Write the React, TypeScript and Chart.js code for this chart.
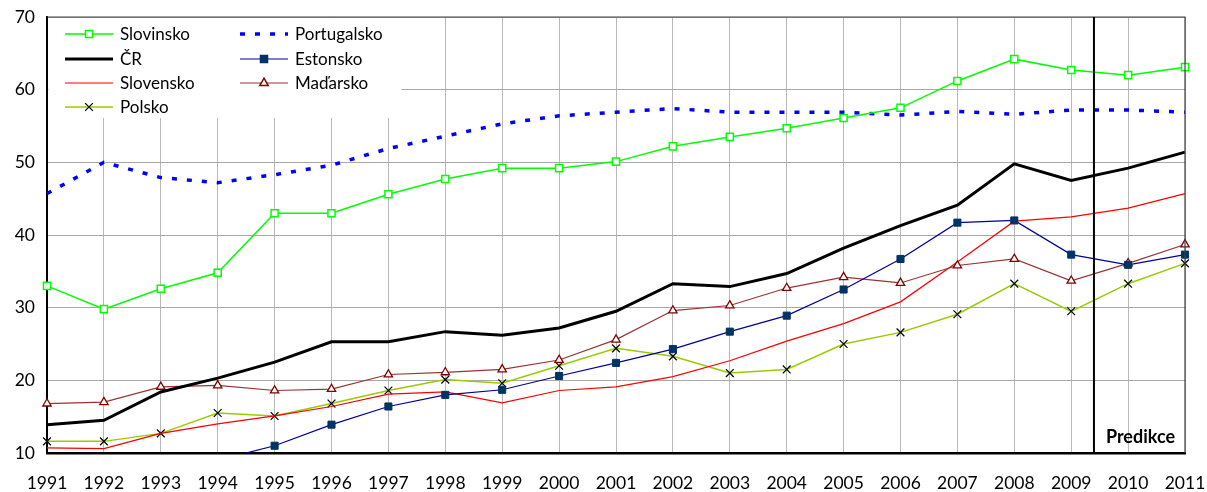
import React, { useEffect, useRef } from "react";
import { Chart, registerables } from "chart.js";

Chart.register(...registerables);

const years = ["1991","1992","1993","1994","1995","1996","1997","1998","1999","2000","2001","2002","2003","2004","2005","2006","2007","2008","2009","2010","2011"];

const slovinsko = [33.0, 29.8, 32.6, 34.8, 43.0, 43.0, 45.6, 47.7, 49.2, 49.2, 50.1, 52.2, 53.5, 54.7, 56.1, 57.5, 61.2, 64.2, 62.7, 62.0, 63.1];
const portugalsko = [45.7, 50.0, 47.9, 47.2, 48.3, 49.6, 51.9, 53.6, 55.3, 56.4, 56.9, 57.4, 56.9, 56.9, 56.9, 56.5, 57.0, 56.6, 57.2, 57.2, 56.9];
const cr = [13.9, 14.5, 18.4, 20.3, 22.5, 25.3, 25.3, 26.7, 26.2, 27.2, 29.5, 33.3, 32.9, 34.7, 38.2, 41.3, 44.1, 49.8, 47.5, 49.2, 51.4];
const estonsko = [null, null, null, 9.0, 11.0, 13.9, 16.4, 18.0, 18.7, 20.6, 22.4, 24.3, 26.7, 28.9, 32.5, 36.7, 41.7, 42.0, 37.3, 35.9, 37.3];
const slovensko = [10.7, 10.6, 12.7, 14.0, 15.1, 16.4, 18.1, 18.4, 16.9, 18.6, 19.1, 20.5, 22.7, 25.4, 27.8, 30.8, 36.3, 41.9, 42.5, 43.7, 45.7];
const madarsko = [16.8, 17.0, 19.1, 19.3, 18.6, 18.8, 20.8, 21.1, 21.5, 22.8, 25.6, 29.6, 30.3, 32.7, 34.2, 33.4, 35.8, 36.7, 33.7, 36.1, 38.7];
const polsko = [11.6, 11.6, 12.7, 15.5, 15.1, 16.8, 18.6, 20.1, 19.6, 22.0, 24.4, 23.3, 21.0, 21.5, 25.0, 26.6, 29.1, 33.3, 29.5, 33.3, 36.1];

const yTicks = [10, 20, 30, 40, 50, 60, 70];
const predictionStartIndex = 18.4; // between 2009 and 2010
const predictionLabel = "Predikce";

const FONT = "Lato, 'Open Sans', sans-serif";

type LegendItem = {
  label: string;
  color: string;
  width: number;
  dash?: number[];
  marker?: "rectOpen" | "rectFill" | "triangle" | "cross";
  markerColor?: string;
};

const legendCol1: LegendItem[] = [
  { label: "Slovinsko", color: "#00ff00", width: 1.5, marker: "rectOpen", markerColor: "#00ff00" },
  { label: "ČR", color: "#000000", width: 3 },
  { label: "Slovensko", color: "#ff0000", width: 1.2 },
  { label: "Polsko", color: "#99cc00", width: 1.5, marker: "cross", markerColor: "#000000" },
];
const legendCol2: LegendItem[] = [
  { label: "Portugalsko", color: "#0000ff", width: 3.5, dash: [5, 10] },
  { label: "Estonsko", color: "#000099", width: 1.2, marker: "rectFill", markerColor: "#003366" },
  { label: "Maďarsko", color: "#993333", width: 1.2, marker: "triangle", markerColor: "#800000" },
];

function drawMarker(ctx: CanvasRenderingContext2D, kind: string, x: number, y: number, color: string) {
  ctx.save();
  ctx.setLineDash([]);
  ctx.lineWidth = 1.5;
  ctx.strokeStyle = color;
  if (kind === "rectOpen" || kind === "rectFill") {
    const s = 3.5;
    ctx.fillStyle = kind === "rectOpen" ? "#ffffff" : color;
    ctx.beginPath();
    ctx.rect(x - s, y - s, 2 * s, 2 * s);
    ctx.fill();
    ctx.stroke();
  } else if (kind === "triangle") {
    const r = 4.8;
    ctx.fillStyle = "#ffffff";
    ctx.beginPath();
    ctx.moveTo(x, y - r);
    ctx.lineTo(x + r * 0.866, y + r * 0.5);
    ctx.lineTo(x - r * 0.866, y + r * 0.5);
    ctx.closePath();
    ctx.fill();
    ctx.stroke();
  } else if (kind === "cross") {
    const d = 3.9;
    ctx.lineWidth = 1.2;
    ctx.beginPath();
    ctx.moveTo(x - d, y - d);
    ctx.lineTo(x + d, y + d);
    ctx.moveTo(x - d, y + d);
    ctx.lineTo(x + d, y - d);
    ctx.stroke();
  }
  ctx.restore();
}

const legendPlugin = {
  id: "innerLegend",
  beforeDatasetsDraw(chart: any) {
    const ctx: CanvasRenderingContext2D = chart.ctx;
    const a = chart.chartArea;
    ctx.save();
    ctx.fillStyle = "#ffffff";
    ctx.fillRect(a.left + 1.5, a.top + 1, 400 - a.left, 117 - a.top);
    const rowY = [34, 59, 83, 107];
    const cols: [LegendItem[], number][] = [[legendCol1, 65], [legendCol2, 240]];
    ctx.font = `17px ${FONT}`;
    ctx.textBaseline = "middle";
    ctx.textAlign = "left";
    for (const [items, x0] of cols) {
      items.forEach((it, i) => {
        const y = rowY[i];
        ctx.save();
        ctx.strokeStyle = it.color;
        ctx.lineWidth = it.width;
        ctx.setLineDash(it.dash || []);
        ctx.lineCap = "butt";
        ctx.beginPath();
        ctx.moveTo(x0, y);
        ctx.lineTo(x0 + 48, y);
        ctx.stroke();
        ctx.restore();
        if (it.marker) drawMarker(ctx, it.marker, x0 + 24, y, it.markerColor || it.color);
        ctx.fillStyle = "#000000";
        ctx.fillText(it.label, x0 + 55, y + 1);
      });
    }
    ctx.restore();
  },
  afterDraw(chart: any) {
    const ctx: CanvasRenderingContext2D = chart.ctx;
    const a = chart.chartArea;
    const xs = chart.scales.x;
    ctx.save();
    // top and right frame
    ctx.strokeStyle = "#404040";
    ctx.lineWidth = 1.2;
    ctx.beginPath();
    ctx.moveTo(a.left, a.top);
    ctx.lineTo(a.right, a.top);
    ctx.lineTo(a.right, a.bottom);
    ctx.stroke();
    // prediction divider
    const px = xs.getPixelForValue(predictionStartIndex);
    ctx.strokeStyle = "#000000";
    ctx.lineWidth = 2;
    ctx.beginPath();
    ctx.moveTo(px, a.top);
    ctx.lineTo(px, a.bottom);
    ctx.stroke();
    ctx.fillStyle = "#000000";
    ctx.font = `bold 18px ${FONT}`;
    ctx.textAlign = "center";
    ctx.textBaseline = "middle";
    ctx.fillText(predictionLabel, (px + a.right) / 2 + 1, a.bottom - 16);
    ctx.restore();
  },
};

export default function App() {
  const ref = useRef<HTMLCanvasElement | null>(null);
  useEffect(() => {
    document.body.style.margin = "0";
    const canvas = ref.current;
    if (!canvas) return;
    Chart.defaults.font.family = FONT;
    const chart = new Chart(canvas, {
      type: "line",
      data: {
        labels: years,
        datasets: [
          {
            label: "ČR",
            data: cr,
            borderColor: "#000000",
            borderWidth: 3,
            pointRadius: 0,
            tension: 0,
          },
          {
            label: "Slovinsko",
            data: slovinsko,
            borderColor: "#00ff00",
            borderWidth: 1.5,
            pointStyle: "rect",
            pointRadius: 5,
            pointBackgroundColor: "#ffffff",
            pointBorderColor: "#00ff00",
            pointBorderWidth: 1.5,
            tension: 0,
          },
          {
            label: "Portugalsko",
            data: portugalsko,
            borderColor: "#0000ff",
            borderWidth: 3.5,
            borderDash: [5, 10],
            borderCapStyle: "butt",
            pointRadius: 0,
            tension: 0,
          },
          {
            label: "Estonsko",
            data: estonsko,
            borderColor: "#000099",
            borderWidth: 1.2,
            pointStyle: "rect",
            pointRadius: 5,
            pointBackgroundColor: "#003366",
            pointBorderColor: "#003366",
            pointBorderWidth: 1,
            tension: 0,
            spanGaps: false,
          },
          {
            label: "Maďarsko",
            data: madarsko,
            borderColor: "#993333",
            borderWidth: 1.2,
            pointStyle: "triangle",
            pointRadius: 4.8,
            pointBackgroundColor: "#ffffff",
            pointBorderColor: "#800000",
            pointBorderWidth: 1.3,
            tension: 0,
          },
          {
            label: "Slovensko",
            data: slovensko,
            borderColor: "#ff0000",
            borderWidth: 1.2,
            pointRadius: 0,
            tension: 0,
          },
          {
            label: "Polsko",
            data: polsko,
            borderColor: "#99cc00",
            borderWidth: 1.5,
            pointStyle: "crossRot",
            pointRadius: 5.5,
            pointBorderColor: "#000000",
            pointBorderWidth: 1.2,
            tension: 0,
          },
        ] as any,
      },
      options: {
        animation: false,
        responsive: false,
        maintainAspectRatio: false,
        layout: { padding: { top: 17, right: 22, left: 0, bottom: 0 } },
        plugins: {
          legend: { display: false },
          tooltip: { enabled: false },
        },
        scales: {
          x: {
            type: "category",
            offset: false,
            grid: { color: "#b8b8b8", lineWidth: 1, drawTicks: false },
            border: { color: "#000000", width: 2.5 },
            ticks: {
              color: "#000000",
              font: { size: 17.5, family: FONT },
              padding: 20,
              maxRotation: 0,
              autoSkip: false,
            },
            afterFit: (s: any) => {
              s.height = 39;
              s.paddingLeft = 0;
              s.paddingRight = 0;
            },
          },
          y: {
            type: "linear",
            min: 10,
            max: 70,
            afterBuildTicks: (s: any) => { s.ticks = yTicks.map((v) => ({ value: v })); },
            grid: { color: "#a8a8a8", lineWidth: 1, drawTicks: false },
            border: { color: "#000000", width: 2 },
            ticks: {
              color: "#000000",
              font: { size: 17.5, family: FONT },
              padding: 12,
            },
            afterFit: (s: any) => {
              s.width = 47;
              s.paddingTop = 0;
              s.paddingBottom = 0;
            },
          },
        },
      } as any,
      plugins: [legendPlugin],
    });
    return () => chart.destroy();
  }, []);
  return <canvas ref={ref} width={1207} height={492} style={{ display: "block", width: 1207, height: 492 }} />;
}
